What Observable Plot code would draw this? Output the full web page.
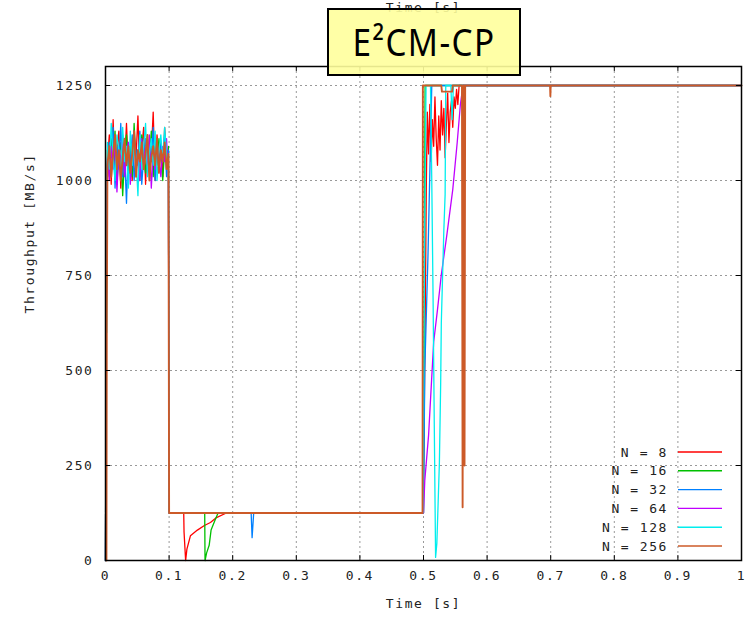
<!DOCTYPE html>
<html><head><meta charset="utf-8">
<script src="https://cdn.jsdelivr.net/npm/d3@7"></script>
<script src="https://cdn.jsdelivr.net/npm/@observablehq/plot@0.6"></script>
<style>
body{margin:0;background:#fff;}
#chart{position:relative;width:751px;height:618px;overflow:hidden;}
</style></head><body><div id="chart"></div>
<script>
const seriesNames = ["N = 8","N = 16","N = 32","N = 64","N = 128","N = 256"];
const seriesColors = ["#ff0000","#00c000","#0080ff","#c000ff","#00eeee","#cc5a28"];
const xTicks = [0,0.1,0.2,0.3,0.4,0.5,0.6,0.7,0.8,0.9,1];
const yTicks = [0,250,500,750,1000,1250];

// shared sample times of the noisy start-up phase
const noiseT = [0.003,0.006,0.009,0.012,0.015,0.018,0.021,0.024,0.027,0.030,0.033,0.036,0.039,0.042,0.045,0.048,0.051,0.054,0.057,0.060,0.063,0.066,0.069,0.072,0.075,0.078,0.081,0.084,0.087,0.090,0.093,0.096,0.099];
const noiseN8   = [1050,1120,990,1160,1010,1080,1130,980,1100,1040,1150,1020,1090,1000,1120,1060,1170,1010,1080,1140,990,1110,1030,1070,1180,1000,1120,1050,1090,1010,1140,1060,1030];
const noiseN16  = [1080,1010,1110,1040,1130,990,1070,1100,960,1060,1120,1030,1090,1010,1150,1040,1080,1000,1120,1060,1020,1100,1050,1130,1010,1090,1040,1110,1070,1000,1080,1050,1090];
const noiseN32  = [1020,1100,1060,1140,980,1090,1030,1150,1010,1070,940,1100,1050,1120,1000,1080,1040,1130,990,1060,1110,1020,1090,1050,1140,1000,1070,1030,1100,1060,1120,1010,1080];
const noiseN64  = [1060,1000,1090,1030,1110,970,1080,1050,1120,1010,1070,1100,990,1060,1130,1020,1080,1000,1110,1050,1090,1040,1120,980,1070,1030,1100,1060,1010,1090,1050,1110,1000];
const noiseN128 = [1100,1030,1150,1060,1000,1120,1080,1010,1140,1050,1090,980,1130,1040,1100,1060,960,1120,1030,1090,1150,1010,1070,1110,1040,1130,1000,1080,1120,1050,1140,1070,1010];
const noiseN256 = [1040,1090,1010,1070,1120,1030,1080,1000,1060,1110,1040,1090,1020,1070,1130,1010,1080,1050,1100,1030,1070,1120,1000,1060,1090,1040,1110,1020,1080,1050,1100,1030,1070];

// start of each trace [time, MB/s]
const startN8   = [[0,0],[0.001,600]];
const startN16  = [[0,0],[0.001,610]];
const startN32  = [[0,0],[0.001,620]];
const startN64  = [[0,0],[0.001,600]];
const startN128 = [[0,0],[0.001,650],[0.002,600]];
const startN256 = [[0.0015,0],[0.002,600]];

// rest of each trace after the start-up phase [time, MB/s]
const restN8 = [[0.1,125],[0.123,125],[0.1235,75],[0.126,0],[0.128,30],[0.1335,65],[0.1445,80],[0.1555,92],[0.165,100],[0.1745,113],[0.19,125],[0.499,125],[0.501,350],[0.503,700],[0.5045,1000],[0.506,1180],[0.508,1070],[0.510,1200],[0.512,1050],[0.514,1160],[0.516,1090],[0.518,1220],[0.520,1110],[0.522,1040],[0.524,1170],[0.526,1080],[0.528,1210],[0.530,1120],[0.532,1190],[0.534,1060],[0.536,1150],[0.538,1230],[0.540,1100],[0.542,1180],[0.544,1210],[0.546,1140],[0.548,1220],[0.550,1190],[0.552,1240],[0.554,1200],[0.556,1250],[1,1250]];
const restN16 = [[0.1,125],[0.156,125],[0.1565,0],[0.159,20],[0.163,40],[0.166,80],[0.172,105],[0.177,125],[0.5,125],[0.5025,1250],[1,1250]];
const restN32 = [[0.1,125],[0.229,125],[0.2305,60],[0.233,125],[0.5,125],[0.502,500],[0.507,800],[0.511,1100],[0.513,1250],[1,1250]];
const restN64 = [[0.1,125],[0.5,125],[0.502,210],[0.508,330],[0.516,575],[0.522,660],[0.528,752],[0.537,860],[0.546,976],[0.553,1100],[0.558,1200],[0.562,1250],[1,1250]];
const restN128 = [[0.1,125],[0.499,125],[0.502,900],[0.504,1250],[0.511,1250],[0.513,1000],[0.515,700],[0.517,350],[0.519,8],[0.521,45],[0.525,258],[0.527,466],[0.528,625],[0.532,870],[0.534,963],[0.535,1250],[0.543,1250],[0.545,1160],[0.547,1250],[1,1250]];
const restN256 = [[0.1,125],[0.4985,125],[0.499,1250],[0.528,1250],[0.529,1234],[0.545,1234],[0.546,1250],[0.5605,1250],[0.5615,140],[0.5625,1250],[0.564,1250],[0.5645,250],[0.5655,1250],[0.699,1250],[0.6995,1222],[0.7,1250],[1,1250]];

const starts = [startN8,startN16,startN32,startN64,startN128,startN256];
const noises = [noiseN8,noiseN16,noiseN32,noiseN64,noiseN128,noiseN256];
const rests  = [restN8,restN16,restN32,restN64,restN128,restN256];

const rows = [];
seriesNames.forEach((name,i)=>{
  const pts = [...starts[i], ...noiseT.map((t,j)=>[t,noises[i][j]]), ...rests[i]];
  pts.forEach(([t,v])=>rows.push({series:name,t,v,w:i===5?1.9:1.3}));
});

const mono = "'DejaVu Sans Mono', monospace";
const plot = Plot.plot({
  width:751, height:618,
  marginLeft:105, marginRight:10, marginTop:66, marginBottom:58,
  style:{fontFamily:mono, fontSize:"13px", color:"#222", background:"transparent", letterSpacing:"1.6px"},
  x:{domain:[0,1]},
  y:{domain:[0,1300]},
  color:{domain:seriesNames, range:seriesColors},
  marks:[
    Plot.gridX(xTicks.slice(1,-1),{stroke:"#999",strokeOpacity:1,strokeDasharray:"2,3"}),
    Plot.gridY(yTicks.slice(1),{stroke:"#999",strokeOpacity:1,strokeDasharray:"2,3"}),
    Plot.line(rows,{x:"t",y:"v",z:"series",stroke:"series",strokeWidth:"w"}),
    Plot.frame({stroke:"#000",strokeWidth:1.5}),
    Plot.ruleX(xTicks,{y1:0,y2:13,stroke:"#000"}),
    Plot.ruleX(xTicks,{y1:1287,y2:1300,stroke:"#000"}),
    Plot.ruleY(yTicks,{x1:0,x2:0.008,stroke:"#000"}),
    Plot.ruleY(yTicks,{x1:0.992,x2:1,stroke:"#000"}),
    Plot.axisX(xTicks,{tickSize:0,tickPadding:10,label:null,tickFormat:d=>String(d)}),
    Plot.axisY(yTicks,{tickSize:0,tickPadding:12,label:null,tickFormat:d=>String(d)}),
    Plot.text(["Time [s]"],{frameAnchor:"bottom",dy:47,fill:"#222"}),
    Plot.text(["Time [s]"],{frameAnchor:"top",dy:-64,fill:"#222"}),
    Plot.text(["Throughput [MB/s]"],{frameAnchor:"left",rotate:-90,dx:-76,fill:"#222"})
  ]
});
document.getElementById("chart").appendChild(plot);

const svg = d3.select(plot);
// title box
const tb = svg.append("g");
tb.append("rect").attr("x",328).attr("y",9).attr("width",192).attr("height",66)
  .attr("fill","#ffff9c").attr("fill-opacity",0.9).attr("stroke","#000").attr("stroke-width",2);
tb.append("text").attr("x",424).attr("y",56).attr("text-anchor","middle")
  .attr("font-family","'Noto Sans', sans-serif").attr("font-size",38)
  .attr("textLength",143).attr("lengthAdjust","spacingAndGlyphs")
  .attr("fill","#000").text("E²CM-CP");
// legend
const lg = svg.append("g");
seriesNames.forEach((name,i)=>{
  const y = 452 + i*18.8;
  lg.append("text").attr("x",668).attr("y",y).attr("dy","0.35em").attr("text-anchor","end")
    .attr("font-family",mono).attr("font-size",13).attr("letter-spacing","1.6px").attr("fill","#222").text(name);
  lg.append("line").attr("x1",678).attr("x2",722).attr("y1",y).attr("y2",y)
    .attr("stroke",seriesColors[i]).attr("stroke-width",1.4);
});
</script></body></html>
